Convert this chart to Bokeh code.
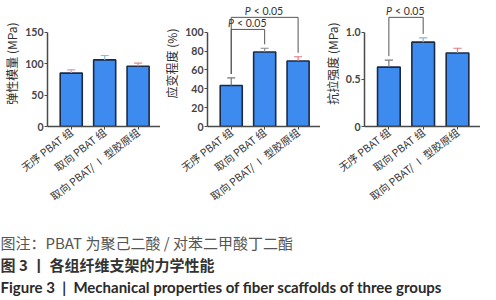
from bokeh.plotting import figure
from bokeh.models import Range1d, FixedTicker
from bokeh.layouts import column, row
from bokeh.embed import file_html
from bokeh.resources import INLINE
from bokeh.core.properties import value

# ---------------- data ----------------
categories = ["无序 PBAT 组", "取向 PBAT 组", "取向 PBAT/ Ⅰ 型胶原组"]

modulus = [85, 106, 96]
modulus_err = [5, 7, 5]
modulus_ticks = [0, 50, 100, 150]

strain = [43.5, 79, 69.5]
strain_err = [8, 4, 4.5]
strain_ticks = [0, 20, 40, 60, 80, 100]
# (group a, group b, bracket height)
strain_sig = [(0, 1, 103), (0, 2, 115.8)]

strength = [0.63, 0.895, 0.78]
strength_err = [0.075, 0.045, 0.05]
strength_ticks = [0, 0.5, 1.0]
strength_sig = [(0, 1, 1.158)]

sig_label = "< 0.05"

captions = [
    "图注：PBAT 为聚己二酸 / 对苯二甲酸丁二酯",
    "图 3 丨 各组纤维支架的力学性能",
    "Figure 3 \u00a0|\u00a0 Mechanical properties of fiber scaffolds of three groups",
]

# ---------------- style ----------------
CJK = "'Noto Sans CJK SC', sans-serif"
LAT = "Lato, 'Noto Sans CJK SC', sans-serif"
BAR_FILL = "#3d8bef"
BAR_LINE = "#1c2b45"
AXIS = "#4a4a4a"
xs = [i + 1 for i in range(len(categories))]

ROW_H = 212
FRAME_H = 127


def panel(vals, errs, err_colors, ticks, ylabel, ytop, axis_top, sig=None, gap=0.0, label_over=None):
    p = figure(width=160, height=ROW_H, output_backend="svg", toolbar_location=None,
               x_range=Range1d(0.29, 3.67), y_range=Range1d(0, ytop),
               min_border_left=32, min_border_right=0, min_border_top=0,
               min_border_bottom=ROW_H - FRAME_H)
    p.outline_line_color = None
    p.grid.visible = False

    p.vbar(x=xs, top=vals, width=0.66, bottom=0, fill_color=BAR_FILL,
           line_color=BAR_LINE, line_width=1.6)
    tops = [v + e for v, e in zip(vals, errs)]
    p.segment(x0=xs, y0=vals, x1=xs, y1=tops, line_color=err_colors, line_width=1.2)
    p.segment(x0=[x - 0.12 for x in xs], y0=tops, x1=[x + 0.12 for x in xs], y1=tops,
              line_color=err_colors, line_width=1.2)

    if sig:
        for a, b, h in sig:
            xa, xb = xs[a], xs[b]
            p.line(x=[xa, xa, xb, xb], y=[tops[a] + gap, h, h, tops[b] + gap],
                   line_color="#555555", line_width=1)
            xc = (xa + xb) / 2
            p.text(x=[xc], y=[h], text=["P"], text_font=value(LAT), text_font_size="10.5px",
                   text_font_style="italic", text_color="#333333", text_baseline="middle",
                   text_align="left", x_offset=-20, y_offset=-6)
            p.text(x=[xc], y=[h], text=[sig_label], text_font=value(LAT), text_font_size="10.5px",
                   text_color="#333333", text_baseline="middle", text_align="left",
                   x_offset=-11, y_offset=-6)

    # x axis
    xa_ = p.xaxis[0]
    xa_.ticker = FixedTicker(ticks=xs)
    xa_.major_label_overrides = {x: c for x, c in zip(xs, categories)}
    xa_.major_label_orientation = 0.66
    xa_.major_label_text_font = CJK
    xa_.major_label_text_font_size = "10.5px"
    xa_.major_label_text_color = "#333333"
    xa_.major_label_standoff = 1
    xa_.axis_line_color = AXIS
    xa_.axis_line_width = 1.5
    xa_.major_tick_line_color = AXIS
    xa_.major_tick_in = 0
    xa_.major_tick_out = 3
    xa_.minor_tick_line_color = None

    ya = p.yaxis[0]
    ya.ticker = FixedTicker(ticks=ticks)
    ya.bounds = (0, axis_top)
    if label_over:
        ya.major_label_overrides = label_over
    ya.major_label_text_font = LAT
    ya.major_label_text_font_style = "bold"
    ya.major_label_text_font_size = "10.5px"
    ya.major_label_text_color = "#444444"
    ya.major_label_standoff = 1
    ya.axis_label = ylabel
    ya.axis_label_text_font = CJK
    ya.axis_label_text_font_style = "normal"
    ya.axis_label_text_font_size = "12px"
    ya.axis_label_text_color = "#2e2e2e"
    ya.axis_label_standoff = 2
    ya.axis_line_color = AXIS
    ya.axis_line_width = 1.5
    ya.major_tick_line_color = AXIS
    ya.major_tick_in = 0
    ya.major_tick_out = 3
    ya.minor_tick_line_color = None
    return p


p1 = panel(modulus, modulus_err, ["#c9a3b4", "#7fc0e8", "#e08a8a"], modulus_ticks,
           "弹性模量 (MPa)", FRAME_H * 150 / 95, 150)
p2 = panel(strain, strain_err, ["#777777", "#888888", "#e07a7a"], strain_ticks,
           "应变程度 (%)", FRAME_H * 100 / 95, 100, sig=strain_sig, gap=4 * 100 / 95)
p3 = panel(strength, strength_err, ["#7a7a7a", "#86b6d8", "#e07a7a"], strength_ticks,
           "抗拉强度 (MPa)", FRAME_H * 1.0 / 95, 1.0, sig=strength_sig, gap=4 * 1.0 / 95,
           label_over={0: "0", 0.5: "0.5", 1: "1.0"})

CAP_H = 84
cap = figure(width=480, height=CAP_H, output_backend="svg", toolbar_location=None,
             x_range=Range1d(0, 480), y_range=Range1d(CAP_H, 0),
             min_border=0)
cap.axis.visible = False
cap.grid.visible = False
cap.outline_line_color = None
cap.text(x=[0], y=[30], text=[captions[0]], text_font=value(CJK), text_font_size="15px",
         text_color="#555555", text_baseline="middle")
cap.text(x=[0], y=[52], text=[captions[1]], text_font=value(CJK), text_font_size="15px",
         text_font_style="bold", text_color="#333333", text_baseline="middle")
cap.text(x=[0], y=[74], text=[captions[2]], text_font=value(LAT), text_font_size="15px",
         text_font_style="bold", text_color="#2a2a2a", text_baseline="middle")

layout = column(row(p1, p2, p3), cap)
open("out.html", "w").write(file_html(layout, INLINE))
